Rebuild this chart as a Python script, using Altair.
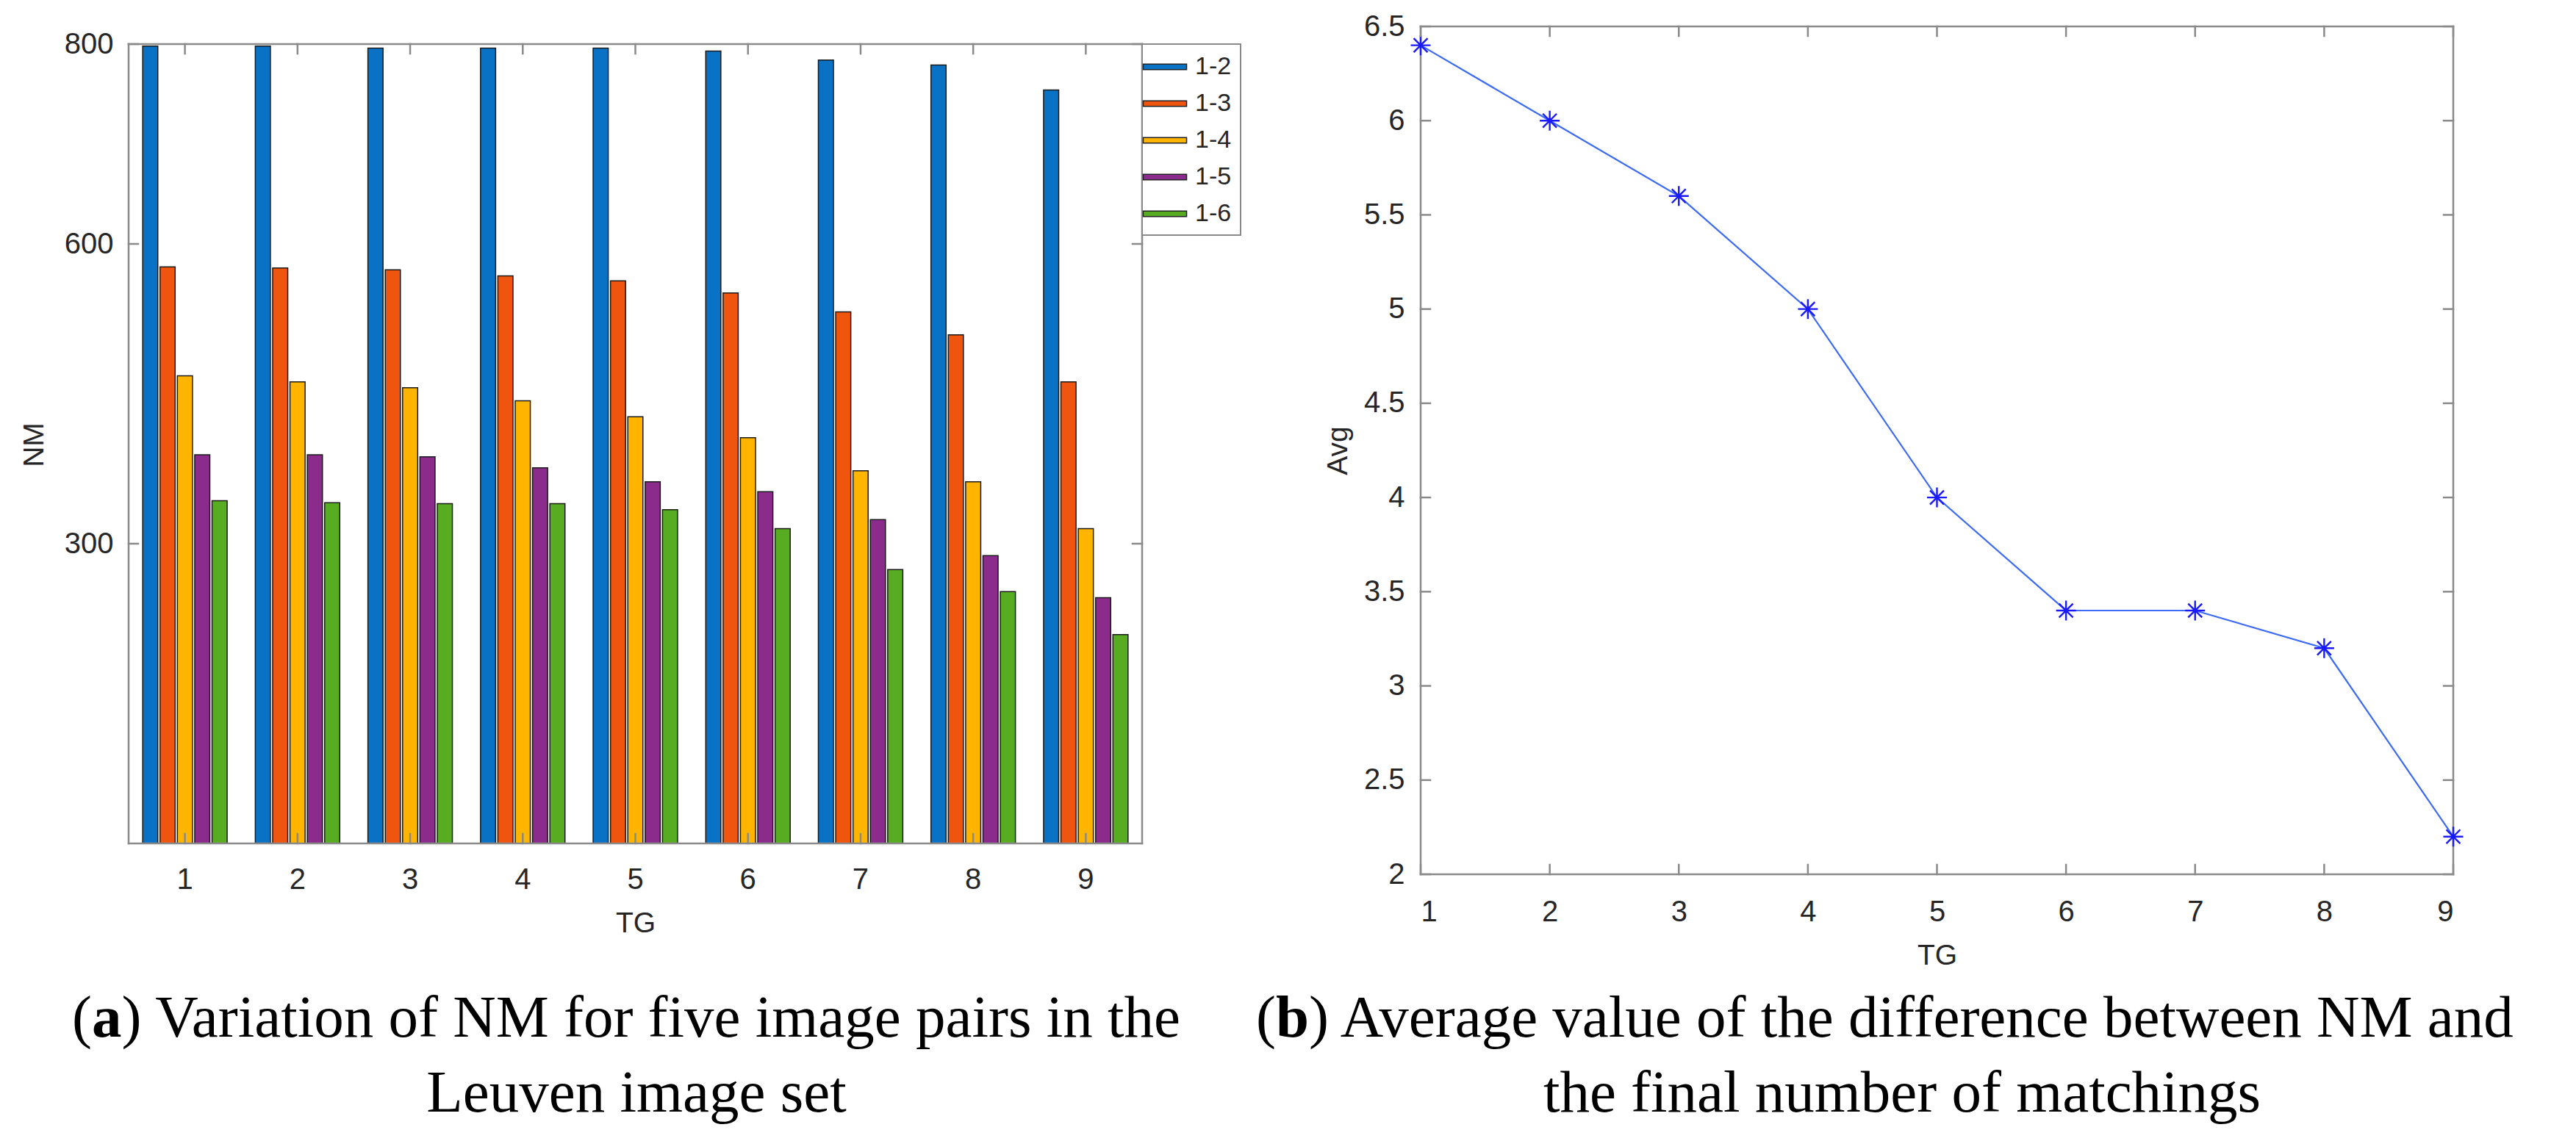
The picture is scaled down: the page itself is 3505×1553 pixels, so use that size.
import altair as alt
import pandas as pd

# ---------------- data ----------------
tg = [1, 2, 3, 4, 5, 6, 7, 8, 9]
pairs = ["1-2", "1-3", "1-4", "1-5", "1-6"]
nm_12 = [798, 798, 796, 796, 796, 793, 784, 779, 754]
nm_13 = [577, 576, 574, 568, 563, 551, 532, 509, 462]
nm_14 = [468, 462, 456, 443, 427, 406, 373, 362, 315]
nm_15 = [389, 389, 387, 376, 362, 352, 324, 288, 246]
nm_16 = [343, 341, 340, 340, 334, 315, 274, 252, 209]
pair_colors = ["#0A72C4", "#F0550F", "#FFB400", "#8B2C8C", "#58AC21"]

avg_values = [6.4, 6.0, 5.6, 5.0, 4.0, 3.4, 3.4, 3.2, 2.2]

nm_ticks = [300, 600, 800]
nm_frame = [0, 800]
avg_ticks = [2, 2.5, 3, 3.5, 4, 4.5, 5, 5.5, 6, 6.5]

caption_a = ["(", "a", ") Variation of NM for five image pairs in the", "Leuven image set"]
caption_b = ["(", "b", ") Average value of the difference between NM and", "the final number of matchings"]

# ---------------- style ----------------
AX = "#8a8a8a"
TXT = "#262626"
FONT = "Liberation Sans"
SERIF = "Liberation Serif"
CAP = 81
TICK = 13
W1, H1 = 1379, 1112      # left panel (plot box starts TOP1 px below the panel top)
TOP1 = 24
W2, H2 = 1405, 1154

series = [nm_12, nm_13, nm_14, nm_15, nm_16]
rows = []
for p, vals in zip(pairs, series):
    for t, v in zip(tg, vals):
        rows.append({"TG": t, "pair": p, "NM": v})
bar_df = pd.DataFrame(rows)

LEG_PATH = "M-1.64,-0.21L1.64,-0.21L1.64,0.21L-1.64,0.21Z"
STAR = "M-1,0L1,0M0,-1L0,1M-0.7,-0.7L0.7,0.7M-0.7,0.7L0.7,-0.7"

axis_common = dict(labelFont=FONT, labelFontSize=40, labelColor=TXT,
                   titleFont=FONT, titleFontSize=39, titleFontWeight="normal",
                   titleColor=TXT, ticks=False, tickSize=0, domain=False, grid=False)

x_left = alt.X("TG:O",
               scale=alt.Scale(paddingInner=0.25, paddingOuter=0.125),
               axis=alt.Axis(title="TG", labelAngle=0, labelPadding=29,
                             titleY=120, titleBaseline="alphabetic", titleX=W1 / 2,
                             **axis_common))
y_left = alt.Y("NM:Q", scale=alt.Scale(domain=[0, 800], range=[H1, TOP1], nice=False, zero=True),
               axis=alt.Axis(title="NM", values=nm_ticks, labelPadding=21,
                             titleX=-117, titleY=569, titleAngle=270,
                             titleBaseline="alphabetic", **axis_common))

bars = alt.Chart(bar_df).mark_bar(stroke="#1a1a1a", strokeWidth=1.5).encode(
    x=x_left,
    xOffset=alt.XOffset("pair:N", scale=alt.Scale(domain=pairs, paddingInner=0.128, paddingOuter=0)),
    y=y_left,
    color=alt.Color("pair:N", scale=alt.Scale(domain=pairs, range=pair_colors),
                    legend=alt.Legend(title=None, orient="none", legendX=W1, legendY=TOP1,
                                      direction="vertical", symbolType=LEG_PATH,
                                      symbolSize=1296, symbolStrokeColor="#222222",
                                      symbolStrokeWidth=1.5, symbolOpacity=1,
                                      labelFont=FONT, labelFontSize=34, labelColor=TXT,
                                      labelOffset=22, padding=12, rowPadding=14,
                                      strokeColor=AX, fillColor="white")),
)

ytick_df = pd.DataFrame({"NM": nm_ticks})
xtick_df = pd.DataFrame({"TG": tg})
hframe_df = pd.DataFrame({"NM": nm_frame})
vframe_df = pd.DataFrame({"NM": [nm_frame[0]], "NMtop": [nm_frame[1]]})

rule = dict(color=AX, strokeWidth=2.5, strokeCap="square")
lf1 = alt.Chart(hframe_df).mark_rule(**rule).encode(y=y_left, x=alt.value(0), x2=alt.value(W1))
lf2 = alt.Chart(vframe_df).mark_rule(**rule).encode(y=y_left, y2=alt.Y2("NMtop"), x=alt.value(0))
lf3 = alt.Chart(vframe_df).mark_rule(**rule).encode(y=y_left, y2=alt.Y2("NMtop"), x=alt.value(W1))
lt1 = alt.Chart(ytick_df).mark_rule(**rule).encode(y=y_left, x=alt.value(0), x2=alt.value(TICK))
lt2 = alt.Chart(ytick_df).mark_rule(**rule).encode(y=y_left, x=alt.value(W1 - TICK), x2=alt.value(W1))
lt3 = alt.Chart(xtick_df).mark_rule(**rule).encode(x=x_left, y=alt.value(TOP1), y2=alt.value(TOP1 + TICK))
lt4 = alt.Chart(xtick_df).mark_rule(**rule).encode(x=x_left, y=alt.value(H1 - TICK), y2=alt.value(H1))


def txt(s, x, y, align, bold=False):
    return alt.Chart(pd.DataFrame({"t": [s]})).mark_text(
        align=align, baseline="alphabetic", font=SERIF, fontSize=CAP,
        fontWeight="bold" if bold else "normal", color="black").encode(
        text="t:N", x=alt.value(x), y=alt.value(y))


capA = [
    txt(caption_a[0], -50, 1375, "right"),
    txt(caption_a[1], -50, 1375, "left", bold=True),
    txt(caption_a[2], -50 + 0.5 * CAP, 1375, "left"),
    txt(caption_a[3], 691, 1477, "center"),
]

left = alt.layer(bars, lf1, lf2, lf3, lt1, lt2, lt3, lt4, *capA).properties(
    width=W1, height=H1, view=alt.ViewBackground(stroke="transparent"))

# ---------------- right chart ----------------
avg_df = pd.DataFrame({"TG": tg, "Avg": avg_values})
x_right = alt.X("TG:Q", scale=alt.Scale(domain=[1, 9], nice=False, zero=False),
                axis=alt.Axis(title="TG", values=tg, format="d", labelPadding=31,
                              titleY=122, titleBaseline="alphabetic", titleX=W2 / 2,
                              **axis_common))
y_right = alt.Y("Avg:Q", scale=alt.Scale(domain=[2, 6.5], nice=False, zero=False),
                axis=alt.Axis(title="Avg", values=avg_ticks, format="~g", labelPadding=22,
                              titleX=-101, titleY=H2 / 2, titleAngle=270,
                              titleBaseline="alphabetic", **axis_common))

line = alt.Chart(avg_df).mark_line(color="#3D6BF5", strokeWidth=2.2).encode(x=x_right, y=y_right)
pts = alt.Chart(avg_df).mark_point(shape=STAR, size=729, filled=False, color="#1A1AFF",
                                   strokeWidth=2.4, opacity=1).encode(x=x_right, y=y_right)

aty = pd.DataFrame({"Avg": avg_ticks})
atx = pd.DataFrame({"TG": tg})
rt1 = alt.Chart(aty).mark_rule(**rule).encode(y=y_right, x=alt.value(0), x2=alt.value(TICK))
rt2 = alt.Chart(aty).mark_rule(**rule).encode(y=y_right, x=alt.value(W2 - TICK), x2=alt.value(W2))
rt3 = alt.Chart(atx).mark_rule(**rule).encode(x=x_right, y=alt.value(0), y2=alt.value(TICK))
rt4 = alt.Chart(atx).mark_rule(**rule).encode(x=x_right, y=alt.value(H2 - TICK), y2=alt.value(H2))

capB = [
    txt(caption_b[0], -197, 1375, "right"),
    txt(caption_b[1], -197, 1375, "left", bold=True),
    txt(caption_b[2], -197 + 0.556 * CAP, 1375, "left"),
    txt(caption_b[3], 655, 1477, "center"),
]

right = alt.layer(line, pts, rt1, rt2, rt3, rt4, *capB).properties(
    width=W2, height=H2, view=alt.ViewBackground(stroke=AX, strokeWidth=2.5))

chart = alt.hconcat(left, right, spacing=17).resolve_scale(
    x="independent", y="independent", color="independent"
).properties(
    padding={"left": 18, "top": 6, "right": 5, "bottom": 5}
).configure(font=FONT).configure_view(
    stroke="transparent"
).configure_legend(strokeWidth=2)

chart.save("out.html", embed_options={"renderer": "svg", "actions": False})
